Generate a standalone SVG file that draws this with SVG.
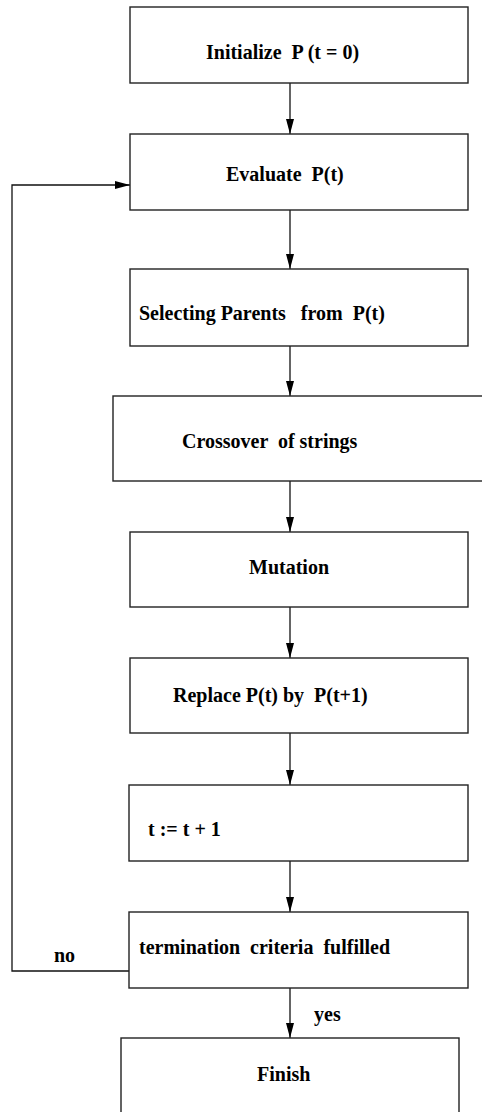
<svg xmlns="http://www.w3.org/2000/svg" width="482" height="1112" viewBox="0 0 482 1112">
  <style>
    .box { fill: #ffffff; stroke: #222222; stroke-width: 1.4; }
    .lbl { font-family: "Liberation Serif", "Times New Roman", serif; font-weight: bold; font-size: 20px; fill: #000000; white-space: pre; }
    .edge { fill: none; stroke: #111111; stroke-width: 1.3; }
  </style>
  <defs>
    <marker id="arrow" markerUnits="userSpaceOnUse" markerWidth="16" markerHeight="9" refX="15" refY="4" orient="auto">
      <path d="M0,0 L15,4 L0,8 z" fill="#000000"/>
    </marker>
  </defs>
  <rect width="482" height="1112" fill="#ffffff"/>

  <g id="connectors">
    <line class="edge" x1="290" y1="83" x2="290" y2="134" marker-end="url(#arrow)"/>
    <line class="edge" x1="290" y1="210" x2="290" y2="269" marker-end="url(#arrow)"/>
    <line class="edge" x1="290" y1="346" x2="290" y2="396" marker-end="url(#arrow)"/>
    <line class="edge" x1="290" y1="481" x2="290" y2="532" marker-end="url(#arrow)"/>
    <line class="edge" x1="290" y1="607" x2="290" y2="658" marker-end="url(#arrow)"/>
    <line class="edge" x1="290" y1="733" x2="290" y2="785" marker-end="url(#arrow)"/>
    <line class="edge" x1="290" y1="861" x2="290" y2="912" marker-end="url(#arrow)"/>
    <line class="edge" x1="290" y1="988" x2="290" y2="1038" marker-end="url(#arrow)"/>
    <polyline class="edge" points="130,971 12,971 12,185 130,185" marker-end="url(#arrow)"/>
    <text class="lbl" x="54" y="962">no</text>
    <text class="lbl" x="314" y="1021">yes</text>
  </g>

  <g id="init">
    <rect class="box" x="130" y="7" width="338" height="76"/>
    <text class="lbl" x="206" y="59">Initialize  P (t = 0)</text>
  </g>
  <g id="evaluate">
    <rect class="box" x="130" y="134" width="338" height="76"/>
    <text class="lbl" x="226" y="181">Evaluate  P(t)</text>
  </g>
  <g id="select">
    <rect class="box" x="130" y="269" width="338" height="77"/>
    <text class="lbl" x="139" y="320">Selecting Parents   from  P(t)</text>
  </g>
  <g id="crossover">
    <rect class="box" x="113" y="396" width="400" height="85"/>
    <text class="lbl" x="182" y="448">Crossover  of strings</text>
  </g>
  <g id="mutation">
    <rect class="box" x="130" y="532" width="338" height="75"/>
    <text class="lbl" x="249" y="574">Mutation</text>
  </g>
  <g id="replace">
    <rect class="box" x="130" y="658" width="338" height="75"/>
    <text class="lbl" x="173" y="702">Replace P(t) by  P(t+1)</text>
  </g>
  <g id="increment">
    <rect class="box" x="129" y="785" width="339" height="76"/>
    <text class="lbl" x="148" y="836">t := t + 1</text>
  </g>
  <g id="termination">
    <rect class="box" x="129" y="912" width="339" height="76"/>
    <text class="lbl" x="139" y="954">termination  criteria  fulfilled</text>
  </g>
  <g id="finish">
    <rect class="box" x="121" y="1038" width="338" height="100"/>
    <text class="lbl" x="257" y="1081">Finish</text>
  </g>
</svg>
